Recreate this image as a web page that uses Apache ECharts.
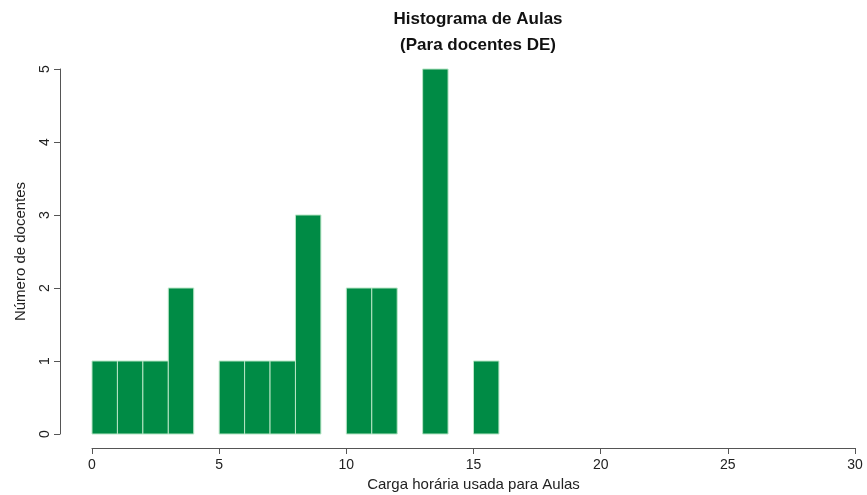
<!DOCTYPE html>
<html><head><meta charset="utf-8">
<script src="https://cdn.jsdelivr.net/npm/echarts@6/dist/echarts.min.js"></script>
<style>html,body{margin:0;padding:0;background:#fff}#c{width:867px;height:495px}</style>
</head><body><div id="c"></div>
<script>
const binStarts = [0,1,2,3,4,5,6,7,8,9,10,11,12,13,14,15];
const binEnds   = [1,2,3,4,5,6,7,8,9,10,11,12,13,14,15,16];
const counts    = [1,1,1,2,0,1,1,1,3,0,2,2,0,5,0,1];
const xTicks = [0,5,10,15,20,25,30];
const yTicks = [0,1,2,3,4,5];

const data = binStarts.map((s,i)=>[s, binEnds[i], counts[i]]).filter(d=>d[2]>0);
const chart = echarts.init(document.getElementById('c'));
const font = 'Liberation Sans, Arial, sans-serif';
chart.setOption({
  animation:false,
  title:{
    text:'Histograma de Aulas\n(Para docentes DE)',
    left:473, top:1, textAlign:'center',
    textStyle:{fontFamily:font,fontSize:17,fontWeight:'bold',color:'#111',lineHeight:26}
  },
  grid:{left:92,right:12,top:69,bottom:61,containLabel:false,outerBoundsMode:'none'},
  xAxis:{
    type:'value',min:0,max:30,interval:5,offset:14,
    name:'Carga horária usada para Aulas',nameLocation:'middle',nameGap:28,
    nameTextStyle:{fontFamily:font,fontSize:15,color:'#222'},
    axisLine:{show:true,onZero:false,lineStyle:{color:'#555',width:1}},
    axisTick:{show:true,length:6,lineStyle:{color:'#555'}},
    axisLabel:{fontFamily:font,fontSize:14,color:'#222',margin:10},
    splitLine:{show:false}
  },
  yAxis:{
    type:'value',min:0,max:5,interval:1,offset:32,
    name:'Número de docentes',nameLocation:'middle',nameGap:32,
    nameTextStyle:{fontFamily:font,fontSize:15,color:'#222'},
    axisLine:{show:true,onZero:false,lineStyle:{color:'#555',width:1}},
    axisTick:{show:true,length:6,lineStyle:{color:'#555'}},
    axisLabel:{fontFamily:font,fontSize:14,color:'#222',rotate:90,margin:8},
    splitLine:{show:false}
  },
  series:[{
    type:'custom',
    data:data,
    encode:{x:[0,1],y:2},
    renderItem:function(params,api){
      const p0 = api.coord([api.value(0),0]);
      const p1 = api.coord([api.value(1),api.value(2)]);
      return {type:'rect',shape:{x:p0[0],y:p1[1],width:p1[0]-p0[0],height:p0[1]-p1[1]},
        style:{fill:'#008B45',stroke:'#b8e6c6',lineWidth:1}};
    }
  }]
});
</script></body></html>
